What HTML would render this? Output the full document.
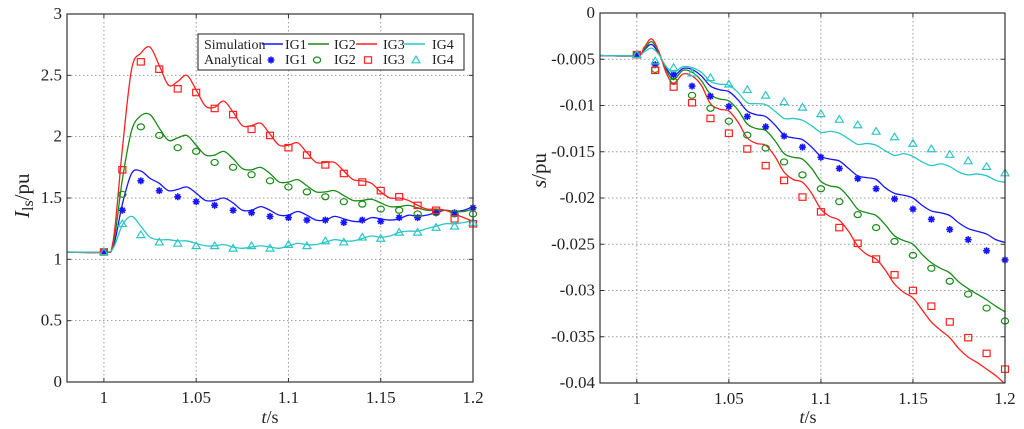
<!DOCTYPE html>
<html><head><meta charset="utf-8">
<style>
html,body{margin:0;padding:0;background:#fff;}
svg{display:block;font-family:"Liberation Serif",serif;}
svg text{font-family:"Liberation Serif",serif;}
</style></head>
<body>
<svg id="fig" width="1024" height="429" viewBox="0 0 1024 429" xmlns="http://www.w3.org/2000/svg">
</svg>
<script>
// ---------- LEFT CHART DATA (I_ls) ----------
const leftMarkerT = [1.00,1.01,1.02,1.03,1.04,1.05,1.06,1.07,1.08,1.09,1.10,1.11,1.12,1.13,1.14,1.15,1.16,1.17,1.18,1.19,1.20];
const leftAnaIG1 = [1.06,1.40,1.64,1.56,1.51,1.47,1.44,1.40,1.38,1.35,1.34,1.32,1.32,1.30,1.32,1.31,1.34,1.34,1.38,1.38,1.42];
const leftAnaIG2 = [1.06,1.53,2.08,2.01,1.91,1.88,1.79,1.75,1.69,1.64,1.59,1.55,1.51,1.47,1.45,1.41,1.40,1.37,1.38,1.37,1.37];
const leftAnaIG3 = [1.06,1.73,2.61,2.55,2.39,2.36,2.23,2.18,2.06,2.01,1.91,1.85,1.77,1.70,1.63,1.56,1.51,1.44,1.40,1.33,1.29];
const leftAnaIG4 = [1.06,1.29,1.20,1.14,1.13,1.11,1.11,1.09,1.11,1.09,1.12,1.11,1.15,1.14,1.18,1.17,1.22,1.22,1.26,1.27,1.30];
const leftSimT = [0.98,1.000,1.005,1.010,1.015,1.020,1.025,1.030,1.035,1.040,1.045,1.050,1.055,1.060,1.065,1.070,1.075,1.080,1.085,1.090,1.095,1.100,1.105,1.110,1.115,1.120,1.125,1.130,1.135,1.140,1.145,1.150,1.155,1.160,1.165,1.170,1.175,1.180,1.185,1.190,1.195,1.200];
const leftSimIG1 = [1.06,1.06,1.10,1.45,1.70,1.72,1.66,1.62,1.56,1.57,1.59,1.54,1.48,1.48,1.50,1.46,1.40,1.40,1.43,1.40,1.36,1.36,1.39,1.36,1.32,1.32,1.35,1.33,1.31,1.31,1.34,1.33,1.32,1.33,1.36,1.35,1.36,1.38,1.40,1.39,1.40,1.43];
const leftSimIG2 = [1.06,1.06,1.12,1.65,2.05,2.17,2.18,2.07,1.97,1.99,2.01,1.93,1.85,1.85,1.88,1.82,1.74,1.73,1.75,1.70,1.63,1.63,1.65,1.60,1.55,1.55,1.56,1.52,1.48,1.48,1.49,1.46,1.43,1.43,1.44,1.42,1.40,1.40,1.40,1.39,1.39,1.41];
const leftSimIG3 = [1.06,1.06,1.15,1.90,2.55,2.68,2.73,2.58,2.42,2.45,2.50,2.38,2.25,2.24,2.29,2.20,2.09,2.09,2.11,2.02,1.93,1.93,1.95,1.87,1.79,1.79,1.79,1.72,1.65,1.64,1.62,1.55,1.50,1.50,1.48,1.44,1.41,1.41,1.40,1.37,1.34,1.31];
const leftSimIG4 = [1.06,1.06,1.09,1.28,1.35,1.27,1.18,1.16,1.16,1.15,1.15,1.13,1.11,1.11,1.12,1.10,1.09,1.10,1.11,1.10,1.09,1.11,1.13,1.12,1.12,1.14,1.16,1.15,1.15,1.17,1.19,1.18,1.19,1.22,1.23,1.23,1.25,1.27,1.29,1.29,1.30,1.32];
const leftXTicks = [1,1.05,1.1,1.15,1.2];
const leftXTickLabels = ["1","1.05","1.1","1.15","1.2"];
const leftYTicks = [0,0.5,1,1.5,2,2.5,3];
const leftYTickLabels = ["0","0.5","1","1.5","2","2.5","3"];

// ---------- RIGHT CHART DATA (s) ----------
const rightMarkerT = [1.00,1.01,1.02,1.03,1.04,1.05,1.06,1.07,1.08,1.09,1.10,1.11,1.12,1.13,1.14,1.15,1.16,1.17,1.18,1.19,1.20];
const rightAnaIG1 = [-0.0045,-0.0056,-0.0067,-0.0079,-0.0090,-0.0101,-0.0112,-0.0123,-0.0133,-0.0145,-0.0156,-0.0168,-0.0179,-0.0190,-0.0201,-0.0212,-0.0223,-0.0234,-0.0245,-0.0257,-0.0267];
const rightAnaIG2 = [-0.0045,-0.0061,-0.0074,-0.0089,-0.0103,-0.0117,-0.0132,-0.0146,-0.0161,-0.0175,-0.0190,-0.0204,-0.0218,-0.0232,-0.0247,-0.0262,-0.0276,-0.0290,-0.0304,-0.0319,-0.0333];
const rightAnaIG3 = [-0.0045,-0.0062,-0.0080,-0.0097,-0.0114,-0.0130,-0.0147,-0.0165,-0.0181,-0.0199,-0.0215,-0.0232,-0.0249,-0.0266,-0.0283,-0.0300,-0.0317,-0.0334,-0.0351,-0.0368,-0.0385];
const rightAnaIG4 = [-0.0045,-0.0052,-0.0059,-0.0065,-0.0070,-0.0077,-0.0083,-0.0089,-0.0096,-0.0102,-0.0109,-0.0115,-0.0121,-0.0128,-0.0134,-0.0141,-0.0147,-0.0153,-0.0160,-0.0166,-0.0173];
const rightSimT = [0.98,1.000,1.004,1.008,1.012,1.016,1.020,1.025,1.030,1.035,1.040,1.045,1.050,1.055,1.060,1.065,1.070,1.075,1.080,1.085,1.090,1.095,1.100,1.105,1.110,1.115,1.120,1.125,1.130,1.135,1.140,1.145,1.150,1.155,1.160,1.165,1.170,1.175,1.180,1.185,1.190,1.195,1.200];
const rightSimIG1 = [-0.0046,-0.0046,-0.0040,-0.0034,-0.0044,-0.0060,-0.0068,-0.0060,-0.0061,-0.0068,-0.0079,-0.0083,-0.0085,-0.0094,-0.0106,-0.0110,-0.0112,-0.0121,-0.0132,-0.0135,-0.0137,-0.0145,-0.0155,-0.0158,-0.0160,-0.0168,-0.0176,-0.0178,-0.0180,-0.0189,-0.0195,-0.0197,-0.0200,-0.0208,-0.0214,-0.0216,-0.0219,-0.0227,-0.0233,-0.0236,-0.0239,-0.0245,-0.0248];
const rightSimIG2 = [-0.0046,-0.0046,-0.0039,-0.0031,-0.0043,-0.0062,-0.0072,-0.0062,-0.0064,-0.0073,-0.0088,-0.0093,-0.0095,-0.0105,-0.0120,-0.0125,-0.0127,-0.0138,-0.0152,-0.0156,-0.0158,-0.0168,-0.0182,-0.0187,-0.0189,-0.0199,-0.0212,-0.0216,-0.0219,-0.0229,-0.0241,-0.0246,-0.0250,-0.0261,-0.0270,-0.0276,-0.0281,-0.0291,-0.0298,-0.0304,-0.0310,-0.0317,-0.0323];
const rightSimIG3 = [-0.0046,-0.0046,-0.0037,-0.0028,-0.0042,-0.0065,-0.0076,-0.0066,-0.0068,-0.0078,-0.0098,-0.0104,-0.0106,-0.0118,-0.0135,-0.0141,-0.0143,-0.0155,-0.0172,-0.0180,-0.0183,-0.0195,-0.0212,-0.0220,-0.0224,-0.0236,-0.0252,-0.0261,-0.0266,-0.0278,-0.0293,-0.0302,-0.0308,-0.0321,-0.0334,-0.0343,-0.0351,-0.0363,-0.0372,-0.0378,-0.0385,-0.0392,-0.0401];
const rightSimIG4 = [-0.0046,-0.0046,-0.0042,-0.0038,-0.0045,-0.0058,-0.0064,-0.0058,-0.0059,-0.0064,-0.0074,-0.0077,-0.0078,-0.0086,-0.0097,-0.0098,-0.0099,-0.0106,-0.0114,-0.0114,-0.0116,-0.0122,-0.0129,-0.0128,-0.0130,-0.0136,-0.0142,-0.0141,-0.0143,-0.0149,-0.0154,-0.0152,-0.0155,-0.0161,-0.0165,-0.0163,-0.0166,-0.0172,-0.0175,-0.0174,-0.0176,-0.0181,-0.0183];
const rightXTicks = [1,1.05,1.1,1.15,1.2];
const rightXTickLabels = ["1","1.05","1.1","1.15","1.2"];
const rightYTicks = [0,-0.005,-0.01,-0.015,-0.02,-0.025,-0.03,-0.035,-0.04];
const rightYTickLabels = ["0","-0.005","-0.01","-0.015","-0.02","-0.025","-0.03","-0.035","-0.04"];

const COLORS = {IG1:"#1515ff", IG2:"#1a8a1a", IG3:"#ff2020", IG4:"#2cc6c6"};
const FONT = '"Liberation Serif", serif';
const NS = "http://www.w3.org/2000/svg";
const svg = document.getElementById("fig");

function mk(tag, attrs, parent){
  const e = document.createElementNS(NS, tag);
  for (const k in attrs) e.setAttribute(k, attrs[k]);
  if (tag === "text") e.setAttribute("font-family", FONT);
  (parent||svg).appendChild(e);
  return e;
}
function smoothPath(pts){
  let d = "M"+pts[0][0].toFixed(2)+","+pts[0][1].toFixed(2);
  for (let i=0;i<pts.length-1;i++){
    const p0=pts[Math.max(0,i-1)], p1=pts[i], p2=pts[i+1], p3=pts[Math.min(pts.length-1,i+2)];
    const c1x=p1[0]+(p2[0]-p0[0])/6, c1y=p1[1]+(p2[1]-p0[1])/6;
    const c2x=p2[0]-(p3[0]-p1[0])/6, c2y=p2[1]-(p3[1]-p1[1])/6;
    d += " C"+c1x.toFixed(2)+","+c1y.toFixed(2)+" "+c2x.toFixed(2)+","+c2y.toFixed(2)+" "+p2[0].toFixed(2)+","+p2[1].toFixed(2);
  }
  return d;
}
function marker(g, kind, x, y, color){
  let m;
  if (kind==="star"){
    m = mk("g", {}, g);
    mk("path", {d:`M${x-3.5},${y} L${x+3.5},${y} M${x},${y-3.5} L${x},${y+3.5} M${x-2.5},${y-2.5} L${x+2.5},${y+2.5} M${x-2.5},${y+2.5} L${x+2.5},${y-2.5}`, stroke:color, "stroke-width":1.6}, m);
  } else if (kind==="circle"){
    m = mk("ellipse", {cx:x, cy:y, rx:3.6, ry:3, fill:"none", stroke:color, "stroke-width":1.2}, g);
  } else if (kind==="square"){
    m = mk("rect", {x:x-3.5, y:y-3.2, width:7, height:6.4, fill:"none", stroke:color, "stroke-width":1.2}, g);
  } else {
    m = mk("path", {d:`M${x},${y-3.8} L${x+4},${y+2.8} L${x-4},${y+2.8} Z`, fill:"none", stroke:color, "stroke-width":1.2}, g);
  }
  return m;
}

function drawChart(cfg){
  const {name,L,R,T,B,x0,x1,y0,y1} = cfg;
  const sx = v => L + (v-x0)/(x1-x0)*(R-L);
  const sy = v => B - (v-y0)/(y1-y0)*(B-T);
  const g = mk("g", {});
  
  
  const grid = mk("g", {stroke:"#9a9a9a","stroke-width":1,"stroke-dasharray":"1.5,2.5"}, g);
  
  
  cfg.xTicks.forEach(v=>{ if(v>x0&&v<x1) mk("line",{x1:sx(v),x2:sx(v),y1:T,y2:B},grid); });
  cfg.yTicks.forEach(v=>{ if(v>y0&&v<y1) mk("line",{x1:L,x2:R,y1:sy(v),y2:sy(v)},grid); });
  const tk = mk("g", {stroke:"#333","stroke-width":1}, g);
  cfg.xTicks.forEach(v=>{ mk("line",{x1:sx(v),x2:sx(v),y1:B,y2:B-4},tk); mk("line",{x1:sx(v),x2:sx(v),y1:T,y2:T+4},tk); });
  cfg.yTicks.forEach(v=>{ mk("line",{x1:L,x2:L+4,y1:sy(v),y2:sy(v)},tk); mk("line",{x1:R,x2:R-4,y1:sy(v),y2:sy(v)},tk); });
  cfg.xTicks.forEach((v,i)=>{
    const t = mk("text",{x:sx(v), y:B+21, "font-size":17, "text-anchor":"middle", fill:"#222"}, g);
    t.textContent = cfg.xLabels[i];
    
    
  });
  cfg.yTicks.forEach((v,i)=>{
    const t = mk("text",{x:L-5, y:sy(v)+5, "font-size":17, "text-anchor":"end", fill:"#222"}, g);
    t.textContent = cfg.yLabels[i];
    
    
  });
  const clip = mk("clipPath",{id:name+"-clip"}, g);
  mk("rect",{x:L,y:T,width:R-L,height:B-T},clip);
  const series = [["IG1",cfg.sim[0]],["IG2",cfg.sim[1]],["IG3",cfg.sim[2]],["IG4",cfg.sim[3]]];
  series.forEach(([k,vals])=>{
    const pts = cfg.simT.map((t,i)=>[sx(t), sy(vals[i])]);
    const p = mk("path",{d:smoothPath(pts), fill:"none", stroke:COLORS[k], "stroke-width":1.3, "clip-path":`url(#${name}-clip)`}, g);
    
    
  });
  const kinds = ["star","circle","square","triangle"];
  ["IG1","IG2","IG3","IG4"].forEach((k,si)=>{
    const mg = mk("g",{}, g);
    
    
    cfg.markT.forEach((t,i)=>{
      const m = marker(mg, kinds[si], sx(t), sy(cfg.ana[si][i]), COLORS[k]);
      
      
    });
  });
  const fr = mk("rect",{x:L,y:T,width:R-L,height:B-T,fill:"none",stroke:"#333","stroke-width":1.2}, g);
  
  
  return g;
}

drawChart({name:"current-chart", L:67, R:473, T:14, B:382, x0:0.98, x1:1.2, y0:0, y1:3,
  xTicks:leftXTicks, xLabels:leftXTickLabels, yTicks:leftYTicks, yLabels:leftYTickLabels,
  simT:leftSimT, sim:[leftSimIG1,leftSimIG2,leftSimIG3,leftSimIG4],
  markT:leftMarkerT, ana:[leftAnaIG1,leftAnaIG2,leftAnaIG3,leftAnaIG4]});
drawChart({name:"slip-chart", L:600, R:1005, T:13, B:383, x0:0.98, x1:1.2, y0:-0.04, y1:0,
  xTicks:rightXTicks, xLabels:rightXTickLabels, yTicks:rightYTicks, yLabels:rightYTickLabels,
  simT:rightSimT, sim:[rightSimIG1,rightSimIG2,rightSimIG3,rightSimIG4],
  markT:rightMarkerT, ana:[rightAnaIG1,rightAnaIG2,rightAnaIG3,rightAnaIG4]});

let t;
t = mk("text",{x:0,y:0,"font-size":21,fill:"#222",transform:"translate(29,218) rotate(-90)"});
t.innerHTML = '<tspan font-style="italic">I</tspan><tspan font-size="16" dy="4">ls</tspan><tspan dy="-4">/pu</tspan>';


t = mk("text",{x:270,y:423,"font-size":18,"text-anchor":"middle",fill:"#222"});
t.innerHTML = '<tspan font-style="italic">t</tspan>/s';


t = mk("text",{x:0,y:0,"font-size":21,fill:"#222",transform:"translate(546,188) rotate(-90)"});
t.innerHTML = '<tspan font-style="italic">s</tspan>/pu';


t = mk("text",{x:808,y:423,"font-size":18,"text-anchor":"middle",fill:"#222"});
t.innerHTML = '<tspan font-style="italic">t</tspan>/s';



const lg = mk("g",{});


mk("rect",{x:198,y:34,width:266,height:36,fill:"#fff",stroke:"#444","stroke-width":1.2},lg);
const legRows = [["Simulation",49],["Analytical",64]];
legRows.forEach(([s,y])=>{
  const tt = mk("text",{x:204,y:y,"font-size":14,fill:"#222"},lg);
  tt.textContent = s;
  
  
});
const legLineX = [262,308,356,404];
const legMarkX = [271,317,368,416];
const legTextX = [285,334,383,432];
["IG1","IG2","IG3","IG4"].forEach((k,i)=>{
  const ln = mk("line",{x1:legLineX[i],x2:legLineX[i]+21,y1:44,y2:44,stroke:COLORS[k],"stroke-width":1.4},lg);
  
  
  const mm = marker(lg, ["star","circle","square","triangle"][i], legMarkX[i], 60, COLORS[k]);
  
  
  [49,64].forEach(y=>{
    const tt = mk("text",{x:legTextX[i],y:y,"font-size":14,fill:"#222"},lg);
    tt.textContent = k;
    
    
  });
});
</script>
</body></html>
